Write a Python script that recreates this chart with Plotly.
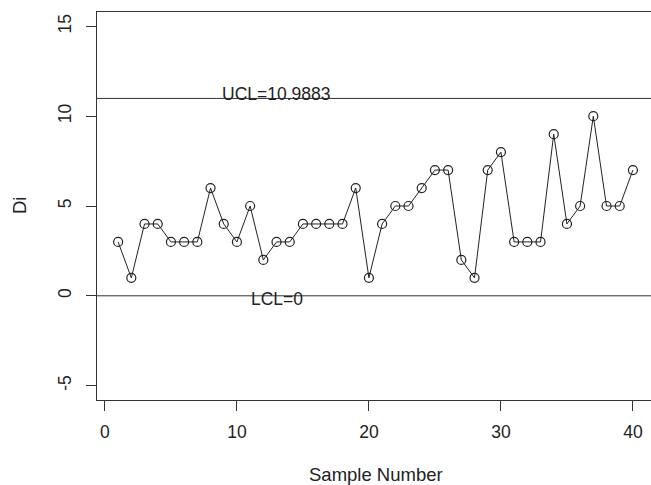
import plotly.graph_objects as go

sample = list(range(1, 41))
di = [3, 1, 4, 4, 3, 3, 3, 6, 4, 3, 5, 2, 3, 3, 4, 4, 4, 4, 6, 1,
      4, 5, 5, 6, 7, 7, 2, 1, 7, 8, 3, 3, 3, 9, 4, 5, 10, 5, 5, 7]
ucl = 10.9883
lcl = 0
ucl_label = "UCL=10.9883"
lcl_label = "LCL=0"
x_ticks = [0, 10, 20, 30, 40]
y_ticks = [-5, 0, 5, 10, 15]
y_tick_labels = ["-5", "0", "5", "10", "15"]

FONT = "Liberation Sans, Arial, Helvetica, sans-serif"
FS = 17.5
LC = "#333333"

fig = go.Figure()
fig.add_trace(go.Scatter(
    x=sample, y=di, mode="lines+markers",
    line=dict(color="#222222", width=1),
    marker=dict(symbol="circle-open", size=9, color="#222222", line=dict(width=1.2)),
    showlegend=False, hoverinfo="skip",
))

for yv in (ucl, lcl):
    fig.add_shape(type="line", xref="paper", x0=0, x1=1, yref="y", y0=yv, y1=yv,
                  line=dict(color=LC, width=1))

fig.add_annotation(x=13, y=11.26, text=ucl_label, showarrow=False,
                   xanchor="center", yanchor="middle", font=dict(size=FS, color="#222"))
fig.add_annotation(x=13, y=-0.18, text=lcl_label, showarrow=False,
                   xanchor="center", yanchor="middle", font=dict(size=FS, color="#222"))

fig.add_annotation(xref="paper", yref="paper", x=0.503, y=0, yshift=-74,
                   text="Sample Number", showarrow=False, xanchor="center", yanchor="middle",
                   font=dict(size=18.5, color="#222"))
fig.add_annotation(xref="paper", yref="paper", x=0, xshift=-78, y=0.5,
                   text="Di", showarrow=False, textangle=-90, xanchor="center", yanchor="middle",
                   font=dict(size=18.5, color="#222"))

fig.update_layout(
    width=651, height=485,
    margin=dict(l=97, r=0, t=12, b=85, autoexpand=False),
    paper_bgcolor="white", plot_bgcolor="white",
    font=dict(family=FONT, size=FS, color="#222"),
    xaxis=dict(range=[-0.6, 41.37], tickvals=x_ticks, ticks="outside", ticklen=10,
               tickcolor=LC, tickwidth=1, showgrid=False, zeroline=False,
               showline=True, linecolor=LC, linewidth=1, mirror=True,
               ticklabelstandoff=6),
    yaxis=dict(range=[-5.8, 15.8], tickvals=y_ticks, ticktext=y_tick_labels,
               ticks="outside", ticklen=10,
               tickcolor=LC, tickwidth=1, showgrid=False, zeroline=False,
               showline=True, linecolor=LC, linewidth=1, tickangle=-90,
               ticklabelstandoff=8),
)

fig.write_html("out.html", config={"displayModeBar": False},
               post_script="document.body.style.margin='0';document.body.style.overflow='hidden';")
